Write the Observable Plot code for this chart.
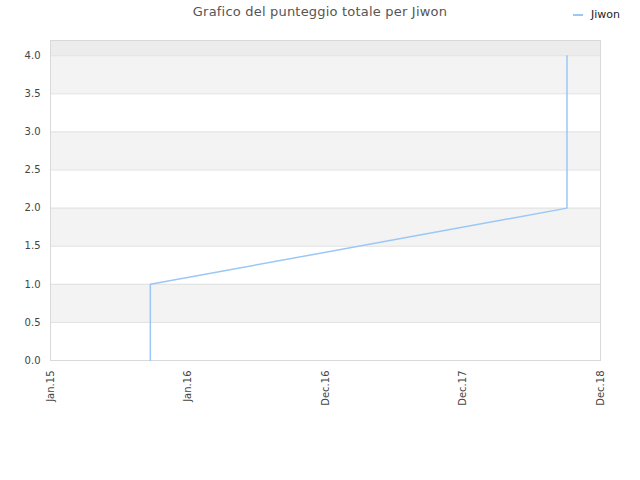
<!DOCTYPE html>
<html>
<head>
<meta charset="utf-8">
<script src="https://cdn.jsdelivr.net/npm/d3@7"></script>
<script src="https://cdn.jsdelivr.net/npm/@observablehq/plot@0.6"></script>
<style>
  html, body { margin: 0; padding: 0; background: #fff; }
  #wrap { position: relative; width: 640px; height: 480px; font-family: "DejaVu Sans", sans-serif; }
  #title { position: absolute; top: 4px; left: 0; width: 640px; text-align: center; font-size: 13px; color: #555; letter-spacing: 0.2px; }
  #legend { position: absolute; top: 8px; left: 573px; font-size: 11px; color: #222; display: flex; align-items: center; }
  #legend .sw { display: inline-block; width: 10px; height: 2px; background: #9ac7f7; margin-right: 8px; }
  #chart { position: absolute; top: 30px; left: 0; }
</style>
</head>
<body>
<div id="wrap">
  <div id="title">Grafico del punteggio totale per Jiwon</div>
  <div id="legend"><span class="sw"></span><span>Jiwon</span></div>
  <div id="chart"></div>
</div>
<script>
// Data
const seriesName = "Jiwon";
const dates = ["2015-09-23", "2015-09-23", "2018-10-03", "2018-10-03"];
const scores = [0, 1, 2, 4];
const tickDates = ["2015-01-01", "2016-01-01", "2016-12-31", "2017-12-31", "2018-12-31"];
const tickLabels = ["Jan.15", "Jan.16", "Dec.16", "Dec.17", "Dec.18"];
const yTicks = [0, 0.5, 1, 1.5, 2, 2.5, 3, 3.5, 4];
const bandLows = [0.5, 1.5, 2.5, 3.5];
const bandHighs = [1.0, 2.0, 3.0, 4.0];
const yMax = 4.2;

const points = dates.map((d, i) => ({date: new Date(d + "T00:00:00Z"), score: scores[i]}));
const tDates = tickDates.map(d => new Date(d + "T00:00:00Z"));
const bands = bandLows.map((lo, i) => ({y1: lo, y2: bandHighs[i]}));
const labelOf = new Map(tDates.map((d, i) => [+d, tickLabels[i]]));

const chart = Plot.plot({
  width: 640,
  height: 450,
  marginTop: 10,
  marginLeft: 50,
  marginRight: 40,
  marginBottom: 120,
  style: {fontFamily: "DejaVu Sans, sans-serif", fontSize: "10px", color: "#444", background: "white"},
  x: {type: "utc", domain: [tDates[0], tDates[tDates.length - 1]], ticks: tDates, tickFormat: d => labelOf.get(+d), label: null},
  y: {domain: [0, yMax], ticks: yTicks, tickFormat: d3.format(".1f"), label: null},
  marks: [
    Plot.rectY([{y1: 4, y2: yMax}], {x1: tDates[0], x2: tDates[tDates.length - 1], y1: "y1", y2: "y2", fill: "#ececec"}),
    Plot.rectY(bands, {x1: tDates[0], x2: tDates[tDates.length - 1], y1: "y1", y2: "y2", fill: "#f3f3f3"}),
    Plot.ruleY(yTicks, {stroke: "#e0e0e0", strokeWidth: 1}),
    Plot.frame({stroke: "#d9d9d9"}),
    Plot.axisY({ticks: yTicks, tickFormat: d3.format(".1f"), tickSize: 0, tickPadding: 10, fill: "#444"}),
    Plot.axisX({ticks: tDates, tickFormat: d => labelOf.get(+d), tickSize: 0, tickPadding: 10, tickRotate: -90, fill: "#444"}),
    Plot.line(points, {x: "date", y: "score", stroke: "#9ac7f7", strokeWidth: 1.5, curve: "linear"})
  ]
});
document.getElementById("chart").appendChild(chart);
</script>
</body>
</html>
